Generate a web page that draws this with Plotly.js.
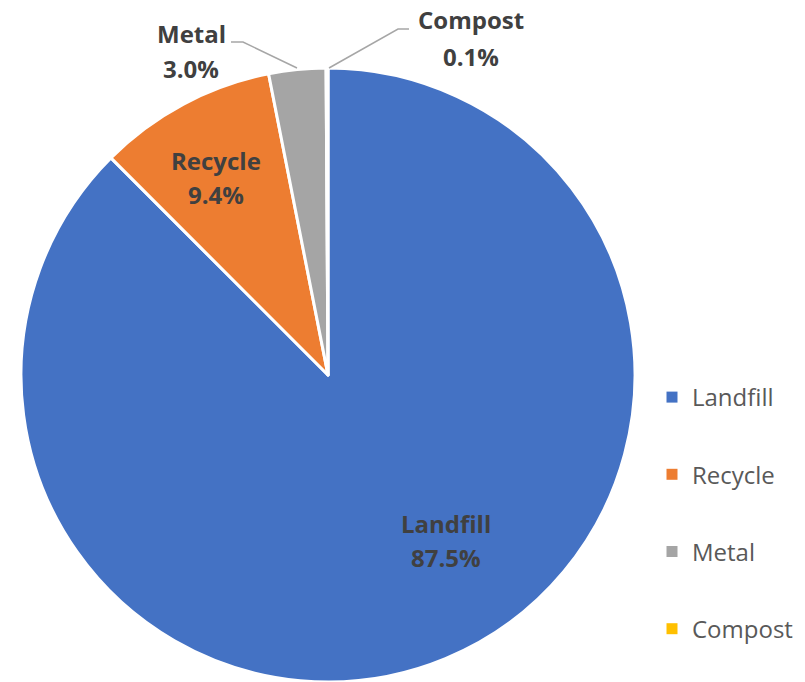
<!DOCTYPE html>
<html>
<head>
<meta charset="utf-8">
<script src="https://cdn.plot.ly/plotly-3.0.1.min.js"></script>
<style>html,body{margin:0;padding:0;background:#fff;}#chart{width:805px;height:682px;}</style>
</head>
<body>
<div id="chart"></div>
<script>
// Data
const categories = ['Landfill', 'Recycle', 'Metal', 'Compost'];
const shares = [87.5, 9.4, 3.0, 0.1];
const colors = ['#4472C4', '#ED7D31', '#A5A5A5', '#FFC000'];

// Label placement (pixel centres of name line / value line)
const W = 805, H = 682;
const labelPos = [
  {x: 446, yName: 523, yVal: 557},
  {x: 216, yName: 160, yVal: 195},
  {x: 191, yName: 34, yVal: 68},
  {x: 471, yName: 20, yVal: 56}
];
const px = v => v / W;
const py = v => 1 - v / H;

const pie = {
  type: 'pie',
  labels: categories,
  values: shares,
  sort: false,
  direction: 'clockwise',
  rotation: 0,
  textinfo: 'none',
  hoverinfo: 'label+percent',
  marker: {colors: colors, line: {color: '#ffffff', width: 3}},
  domain: {x: [21 / W, 635 / W], y: [0, 1 - 68 / H]},
  showlegend: false
};

const legendTraces = categories.map((c, i) => ({
  type: 'scatter',
  mode: 'markers',
  x: [null], y: [null],
  name: c,
  legendgroup: 'g' + i,
  marker: {symbol: 'square', size: 11, color: colors[i]},
  showlegend: true,
  hoverinfo: 'skip'
}));

const annotations = [];
categories.forEach((c, i) => {
  const p = labelPos[i];
  const f = {family: '"Open Sans", "Noto Sans", sans-serif', size: 24, color: '#404040'};
  annotations.push({xref: 'paper', yref: 'paper', x: px(p.x), y: py(p.yName), text: '<b>' + c + '</b>',
    showarrow: false, xanchor: 'center', yanchor: 'middle', font: f});
  annotations.push({xref: 'paper', yref: 'paper', x: px(p.x), y: py(p.yVal), text: '<b>' + shares[i].toFixed(1) + '%</b>',
    showarrow: false, xanchor: 'center', yanchor: 'middle', font: f});
});

const shapes = [
  {type: 'path', xref: 'paper', yref: 'paper',
   path: `M ${px(231)} ${py(42)} L ${px(243)} ${py(42)} L ${px(297)} ${py(68)}`,
   line: {color: '#A6A6A6', width: 1.5}},
  {type: 'path', xref: 'paper', yref: 'paper',
   path: `M ${px(409)} ${py(29)} L ${px(398)} ${py(29)} L ${px(329)} ${py(68)}`,
   line: {color: '#A6A6A6', width: 1.5}}
];

const layout = {
  width: W, height: H,
  margin: {l: 0, r: 0, t: 0, b: 0},
  paper_bgcolor: '#ffffff',
  plot_bgcolor: '#ffffff',
  xaxis: {visible: false},
  yaxis: {visible: false},
  showlegend: true,
  legend: {
    x: 652 / W, y: py(375), xanchor: 'left', yanchor: 'top',
    font: {family: '"Open Sans", "Noto Sans", sans-serif', size: 24, color: '#595959'},
    tracegroupgap: 43,
    itemwidth: 30,
    bgcolor: 'rgba(0,0,0,0)'
  },
  annotations: annotations,
  shapes: shapes
};

Plotly.newPlot('chart', [pie].concat(legendTraces), layout, {displayModeBar: false, staticPlot: true});
</script>
</body>
</html>
